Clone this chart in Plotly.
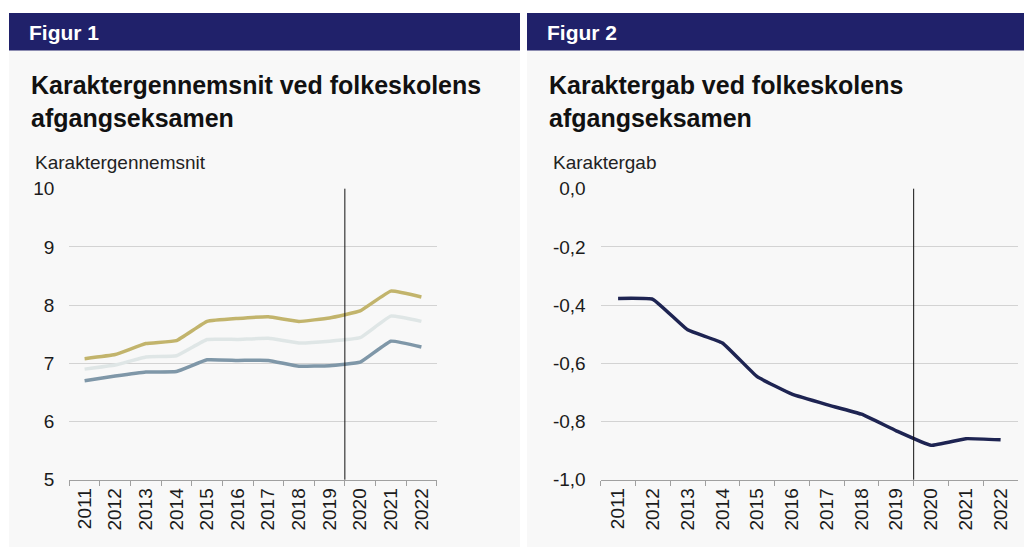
import plotly.graph_objects as go

years = ["2011", "2012", "2013", "2014", "2015", "2016", "2017", "2018", "2019", "2020", "2021", "2022"]
piger = [7.08, 7.15, 7.34, 7.39, 7.72, 7.77, 7.80, 7.72, 7.78, 7.90, 8.24, 8.14]
alle = [6.90, 6.97, 7.11, 7.13, 7.41, 7.41, 7.43, 7.35, 7.38, 7.44, 7.81, 7.72]
drenge = [6.70, 6.78, 6.85, 6.86, 7.06, 7.05, 7.05, 6.95, 6.96, 7.02, 7.38, 7.28]
gap = [-0.377, -0.380, -0.485, -0.530, -0.646, -0.706, -0.742, -0.775, -0.832, -0.882, -0.859, -0.863]

y1_ticks = [5, 6, 7, 8, 9, 10]
y2_ticks = [-1.0, -0.8, -0.6, -0.4, -0.2, 0.0]
y2_ticktext = ["-1,0", "-0,8", "-0,6", "-0,4", "-0,2", "0,0"]

W, H = 1024, 548
FONT = "Liberation Sans, Arial, sans-serif"
NAVY = "#20216a"
PANEL = "#f8f8f8"
GRID = "#d3d3d3"
AXIS = "#a0a0a0"
TXT = "#1b1b1b"

def px(x):
    return x / W

def py(y):
    return 1 - y / H

fig = go.Figure()

series = [("Piger", piger, "#c2b46c"), ("Alle", alle, "#dfe6e6"), ("Drenge", drenge, "#7f97a8")]
for name, vals, col in series:
    fig.add_trace(go.Scatter(x=years, y=vals, mode="lines", name=name,
                             line=dict(color=col, width=3.5, shape="spline", smoothing=0.3),
                             xaxis="x", yaxis="y", showlegend=False))

fig.add_trace(go.Scatter(x=years, y=gap, mode="lines", name="Karaktergab",
                         line=dict(color="#1e2452", width=3.5, shape="spline", smoothing=0.3),
                         xaxis="x2", yaxis="y2", showlegend=False))

xcommon = dict(type="category", tickangle=-90, tickson="boundaries", ticks="outside",
               ticklen=5, tickcolor=AXIS, showline=True, linecolor=AXIS, linewidth=1,
               showgrid=False, zeroline=False, range=[-0.5, 11.5], automargin=False,
               tickfont=dict(family=FONT, size=19, color=TXT))
ycommon = dict(showgrid=True, gridcolor=GRID, gridwidth=1, zeroline=False, showline=False,
               ticks="", tickfont=dict(family=FONT, size=19, color=TXT), ticklabelstandoff=14,
               automargin=False)

fig.update_layout(
    width=W, height=H, margin=dict(l=0, r=0, t=0, b=0, autoexpand=False),
    paper_bgcolor="white", plot_bgcolor="rgba(0,0,0,0)",
    separators=",.",
    xaxis=dict(domain=[px(69.3), px(436.7)], anchor="y", **xcommon),
    yaxis=dict(domain=[py(479.7), py(188.7)], anchor="x", range=[5, 10],
               tickvals=y1_ticks, **ycommon),
    xaxis2=dict(domain=[px(600.7), px(1018)], anchor="y2", **xcommon),
    yaxis2=dict(domain=[py(479.7), py(188.7)], anchor="x2", range=[-1, 0],
                tickvals=y2_ticks, ticktext=y2_ticktext, **ycommon),
)

shapes = []
for x0, x1 in [(9, 520), (527, 1024)]:
    shapes.append(dict(type="rect", xref="paper", yref="paper", x0=px(x0), x1=px(x1),
                       y0=py(547), y1=py(13), fillcolor=PANEL, line=dict(width=0), layer="below"))
    shapes.append(dict(type="rect", xref="paper", yref="paper", x0=px(x0), x1=px(x1),
                       y0=py(50.5), y1=py(13), fillcolor=NAVY, line=dict(width=0), layer="below"))
# reference line between 2019 and 2020 (category boundary)
shapes.append(dict(type="line", xref="x", yref="y domain", x0=8.5, x1=8.5, y0=0, y1=1,
                   line=dict(color="#111111", width=1)))
shapes.append(dict(type="line", xref="x2", yref="y2 domain", x0=8.5, x1=8.5, y0=0, y1=1,
                   line=dict(color="#111111", width=1)))
fig.update_layout(shapes=shapes)

ann = []
for x0, fig_label, title, ytitle in [(27, "Figur 1", "Karaktergennemsnit ved folkeskolens<br>afgangseksamen", "Karaktergennemsnit"),
                                     (545, "Figur 2", "Karaktergab ved folkeskolens<br>afgangseksamen", "Karaktergab")]:
    ann.append(dict(xref="paper", yref="paper", x=px(x0), y=py(32), xanchor="left", yanchor="middle",
                    text="<b>%s</b>" % fig_label, showarrow=False,
                    font=dict(family=FONT, size=21, color="white")))
    ann.append(dict(xref="paper", yref="paper", x=px(x0 + 2), y=py(69), xanchor="left", yanchor="top",
                    text="<b>%s</b>" % title, showarrow=False, align="left",
                    font=dict(family=FONT, size=25, color="#111111")))
    ann.append(dict(xref="paper", yref="paper", x=px(x0 + 6), y=py(162), xanchor="left", yanchor="middle",
                    text=ytitle, showarrow=False,
                    font=dict(family=FONT, size=19, color="#222222")))

for name, vals, col in series:
    ann.append(dict(xref="x", yref="y", x=years[-1], y=vals[-1], xanchor="left", yanchor="middle",
                    xshift=10, text=name, showarrow=False,
                    font=dict(family=FONT, size=19, color="#1b1b3a")))
fig.update_layout(annotations=ann)

fig.write_html("out.html", config={"displayModeBar": False},
               post_script="document.body.style.margin='0';")
